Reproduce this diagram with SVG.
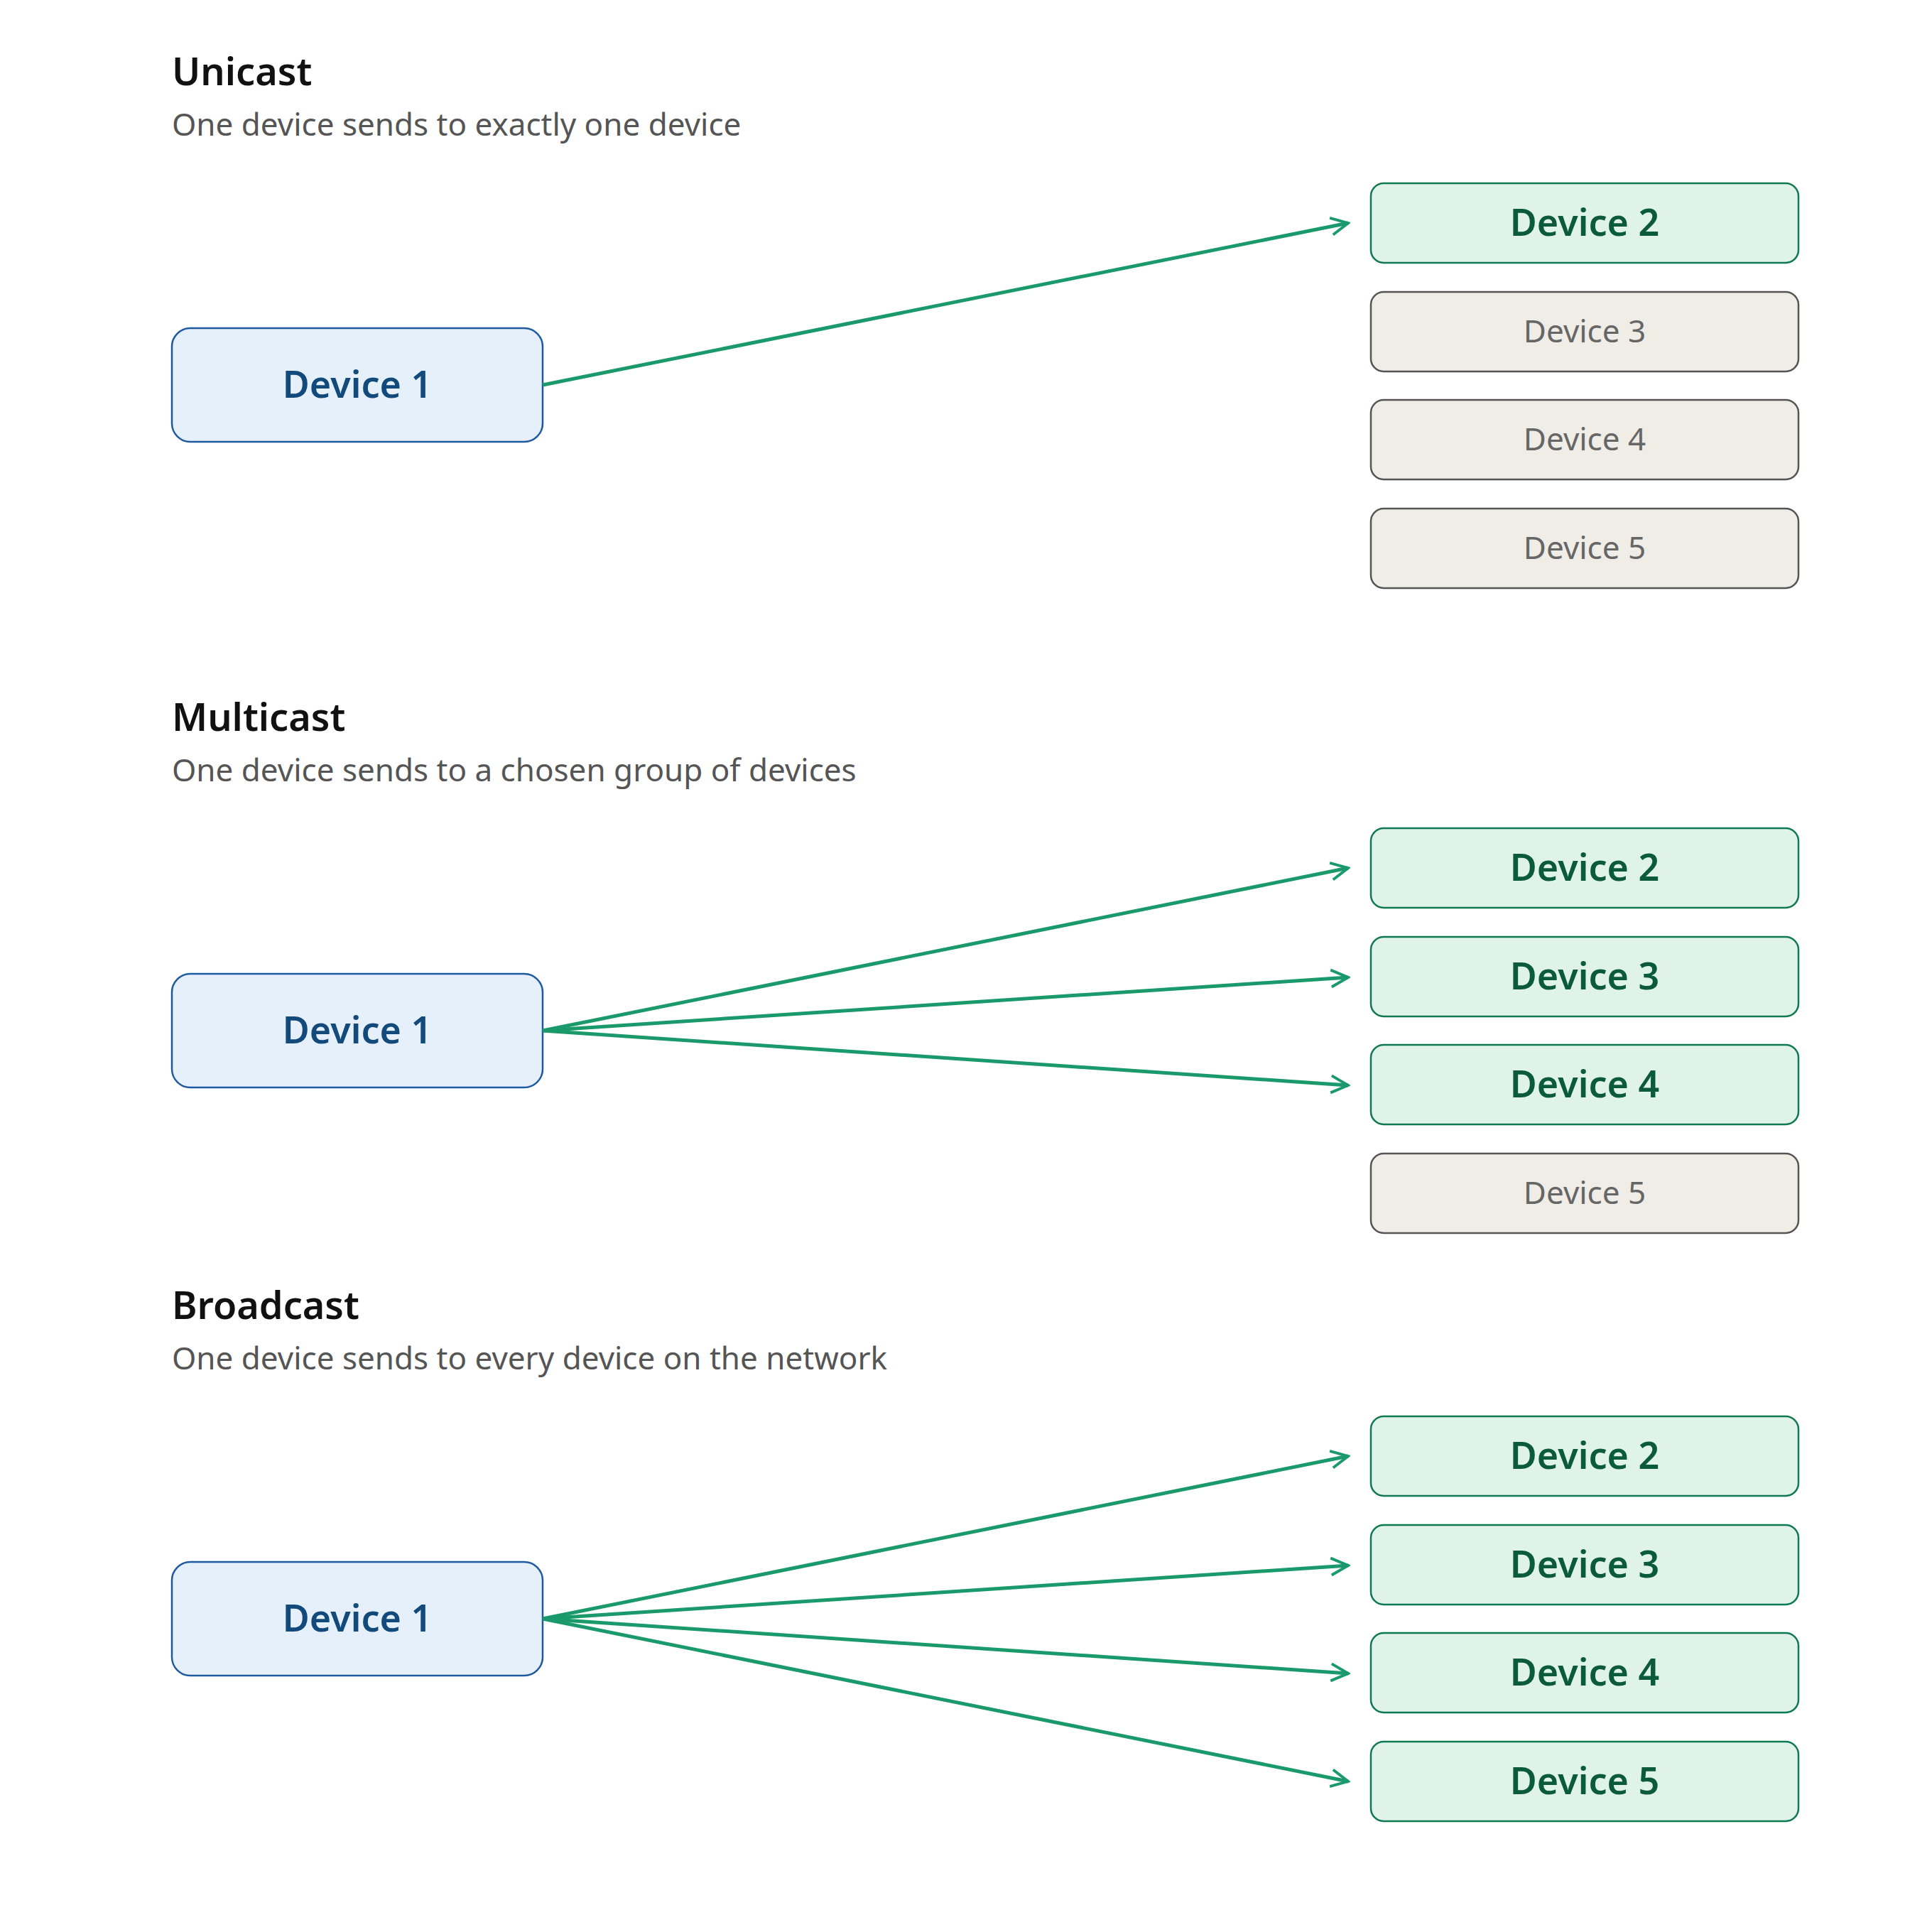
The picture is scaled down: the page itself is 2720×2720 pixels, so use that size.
<svg xmlns="http://www.w3.org/2000/svg" width="2720" height="2720" viewBox="0 0 2720 2720">
<defs>
<style>
.t{font-family:"Noto Sans","Open Sans",sans-serif;font-size:54px;font-weight:600;fill:#111}
.s{font-family:"Noto Sans","Open Sans",sans-serif;font-size:44px;fill:#555}
.src rect{fill:#e6f0fa;stroke:#1f5aa0;stroke-width:2.5}
.src text{font-family:"Noto Sans","Open Sans",sans-serif;font-size:52px;font-weight:600;fill:#134a7c;text-anchor:middle}
.on rect{fill:#e0f3ea;stroke:#0f7a52;stroke-width:2.5}
.on text{font-family:"Noto Sans","Open Sans",sans-serif;font-size:52px;font-weight:600;fill:#0b5a3e;text-anchor:middle}
.off rect{fill:#f0ede6;stroke:#555;stroke-width:2.5}
.off text{font-family:"Noto Sans","Open Sans",sans-serif;font-size:44px;fill:#666;text-anchor:middle}
.c line{stroke:#1a9a6c;stroke-width:5;marker-end:url(#a)}
</style>
<marker id="a" viewBox="0 0 10 10" refX="9" refY="5" markerWidth="6" markerHeight="6" orient="auto" markerUnits="strokeWidth"><path d="M1,1 L9,5 L1,9" fill="none" stroke="#1a9a6c" stroke-width="1.3"/></marker>
</defs>
<rect width="2720" height="2720" fill="#fff"/>
<text class="t" x="242" y="120">Unicast</text>
<text class="s" x="242" y="191">One device sends to exactly one device</text>
<text class="t" x="242" y="1029">Multicast</text>
<text class="s" x="242" y="1100">One device sends to a chosen group of devices</text>
<text class="t" x="242" y="1857">Broadcast</text>
<text class="s" x="242" y="1928">One device sends to every device on the network</text>

<g id="u1" class="src"><rect x="242" y="462" width="522" height="160" rx="26"/><text x="503" y="560">Device 1</text></g>
<g id="u2" class="on"><rect x="1930" y="258" width="602" height="112" rx="18"/><text x="2231" y="332">Device 2</text></g>
<g id="u3" class="off"><rect x="1930" y="411" width="602" height="112" rx="18"/><text x="2231" y="482">Device 3</text></g>
<g id="u4" class="off"><rect x="1930" y="563" width="602" height="112" rx="18"/><text x="2231" y="634">Device 4</text></g>
<g id="u5" class="off"><rect x="1930" y="716" width="602" height="112" rx="18"/><text x="2231" y="787">Device 5</text></g>

<g id="m1" class="src"><rect x="242" y="1371" width="522" height="160" rx="26"/><text x="503" y="1469">Device 1</text></g>
<g id="m2" class="on"><rect x="1930" y="1166" width="602" height="112" rx="18"/><text x="2231" y="1240">Device 2</text></g>
<g id="m3" class="on"><rect x="1930" y="1319" width="602" height="112" rx="18"/><text x="2231" y="1393">Device 3</text></g>
<g id="m4" class="on"><rect x="1930" y="1471" width="602" height="112" rx="18"/><text x="2231" y="1545">Device 4</text></g>
<g id="m5" class="off"><rect x="1930" y="1624" width="602" height="112" rx="18"/><text x="2231" y="1695">Device 5</text></g>

<g id="b1" class="src"><rect x="242" y="2199" width="522" height="160" rx="26"/><text x="503" y="2297">Device 1</text></g>
<g id="b2" class="on"><rect x="1930" y="1994" width="602" height="112" rx="18"/><text x="2231" y="2068">Device 2</text></g>
<g id="b3" class="on"><rect x="1930" y="2147" width="602" height="112" rx="18"/><text x="2231" y="2221">Device 3</text></g>
<g id="b4" class="on"><rect x="1930" y="2299" width="602" height="112" rx="18"/><text x="2231" y="2373">Device 4</text></g>
<g id="b5" class="on"><rect x="1930" y="2452" width="602" height="112" rx="18"/><text x="2231" y="2526">Device 5</text></g>

<g id="connectors" class="c">
<line x1="764" y1="542" x2="1898" y2="314"/>
<line x1="764" y1="1451" x2="1898" y2="1222"/>
<line x1="764" y1="1451" x2="1898" y2="1376"/>
<line x1="764" y1="1451" x2="1898" y2="1528"/>
<line x1="764" y1="2279" x2="1898" y2="2050"/>
<line x1="764" y1="2279" x2="1898" y2="2204"/>
<line x1="764" y1="2279" x2="1898" y2="2356"/>
<line x1="764" y1="2279" x2="1898" y2="2508"/>
</g>
</svg>
